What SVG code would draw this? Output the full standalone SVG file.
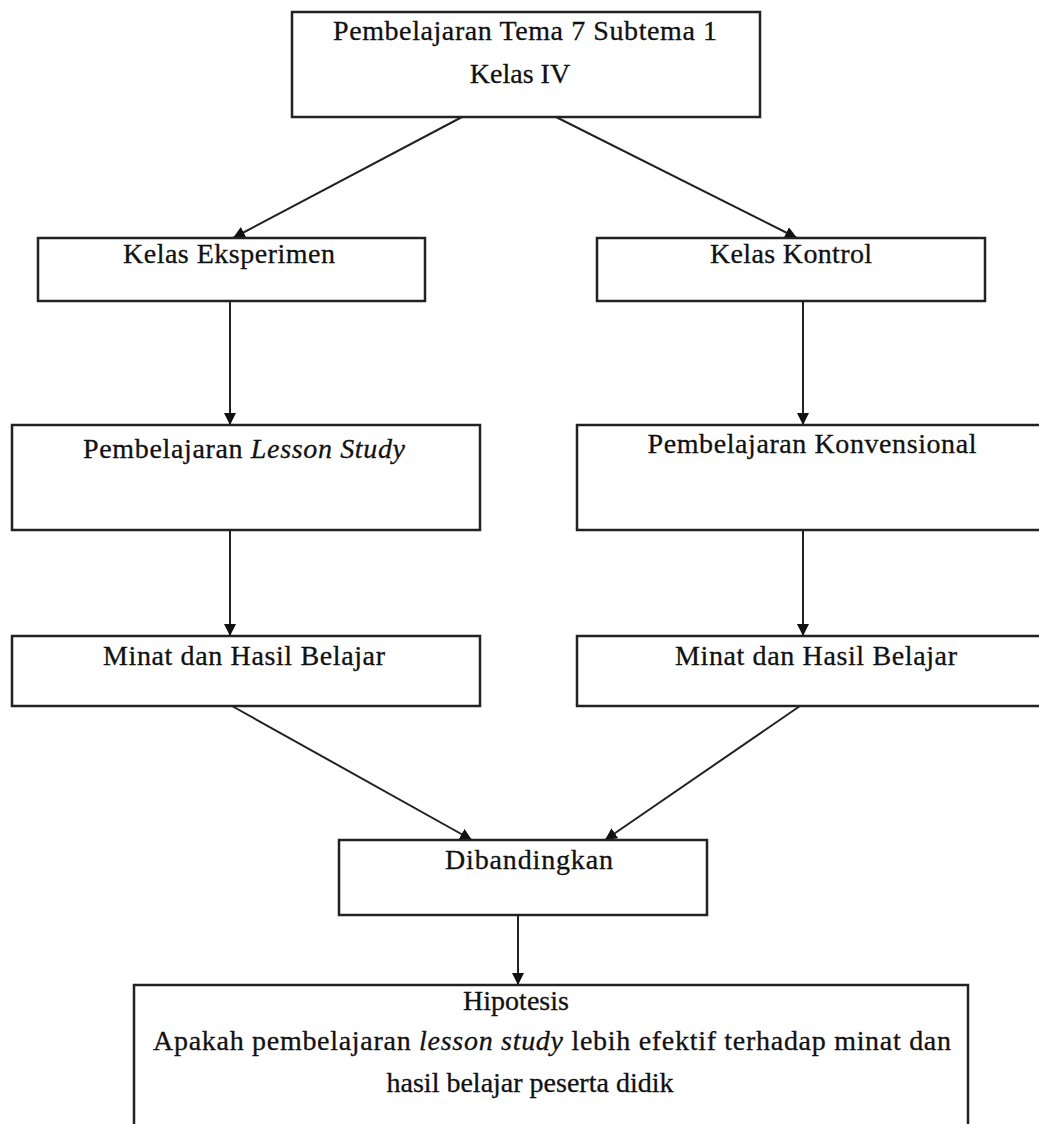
<svg xmlns="http://www.w3.org/2000/svg" width="1039" height="1124" viewBox="0 0 1039 1124">
<style>
.box{fill:#fff;stroke:#222;stroke-width:2.5}
.t{font-family:"Liberation Serif","Times New Roman",serif;font-size:28px;fill:#111;stroke:#111;stroke-width:0.3;text-anchor:middle}
.c{fill:none;stroke:#222;stroke-width:2}
</style>
<defs>
<marker id="ah" markerUnits="userSpaceOnUse" markerWidth="12" markerHeight="12" viewBox="0 0 12 12" refX="12" refY="6" orient="auto">
<path d="M0,0 L12,6 L0,12 z" fill="#111"/>
</marker>
</defs>
<rect width="1039" height="1124" fill="#fff"/>
<g id="connectors">
<line class="c" x1="462" y1="117" x2="233" y2="238" marker-end="url(#ah)"/>
<line class="c" x1="556" y1="117" x2="797" y2="238" marker-end="url(#ah)"/>
<line class="c" x1="230" y1="301" x2="230" y2="425" marker-end="url(#ah)"/>
<line class="c" x1="803" y1="301" x2="803" y2="425" marker-end="url(#ah)"/>
<line class="c" x1="230" y1="530" x2="230" y2="636" marker-end="url(#ah)"/>
<line class="c" x1="803" y1="530" x2="803" y2="636" marker-end="url(#ah)"/>
<line class="c" x1="232" y1="706" x2="472" y2="840" marker-end="url(#ah)"/>
<line class="c" x1="800" y1="706" x2="605" y2="840" marker-end="url(#ah)"/>
<line class="c" x1="518" y1="915" x2="518" y2="985" marker-end="url(#ah)"/>
</g>
<g id="n-top">
<rect class="box" x="292" y="12" width="468" height="105"/>
<text class="t" x="525" y="40" textLength="384" lengthAdjust="spacing">Pembelajaran Tema 7 Subtema 1</text>
<text class="t" x="520" y="83">Kelas IV</text>
</g>
<g id="n-eksperimen">
<rect class="box" x="38" y="238" width="387" height="63"/>
<text class="t" x="229" y="263" textLength="212" lengthAdjust="spacing">Kelas Eksperimen</text>
</g>
<g id="n-kontrol">
<rect class="box" x="597" y="238" width="388" height="63"/>
<text class="t" x="791" y="263" textLength="162" lengthAdjust="spacing">Kelas Kontrol</text>
</g>
<g id="n-lesson">
<rect class="box" x="12" y="425" width="468" height="105"/>
<text class="t" x="244" y="458" textLength="322" lengthAdjust="spacing">Pembelajaran <tspan font-style="italic">Lesson Study</tspan></text>
</g>
<g id="n-konvensional">
<rect class="box" x="577" y="425" width="470" height="105"/>
<text class="t" x="812" y="453" textLength="329" lengthAdjust="spacing">Pembelajaran Konvensional</text>
</g>
<g id="n-minat-left">
<rect class="box" x="12" y="636" width="468" height="70"/>
<text class="t" x="244" y="665" textLength="282" lengthAdjust="spacing">Minat dan Hasil Belajar</text>
</g>
<g id="n-minat-right">
<rect class="box" x="577" y="636" width="470" height="70"/>
<text class="t" x="816" y="665" textLength="282" lengthAdjust="spacing">Minat dan Hasil Belajar</text>
</g>
<g id="n-dibandingkan">
<rect class="box" x="339" y="840" width="368" height="75"/>
<text class="t" x="529" y="869" textLength="168" lengthAdjust="spacing">Dibandingkan</text>
</g>
<g id="n-hipotesis">
<rect class="box" x="134" y="985" width="834" height="150"/>
<text class="t" x="516" y="1010">Hipotesis</text>
<text class="t" x="552" y="1050" textLength="798" lengthAdjust="spacing">Apakah pembelajaran <tspan font-style="italic">lesson study</tspan> lebih efektif terhadap minat dan</text>
<text class="t" x="530" y="1092">hasil belajar peserta didik</text>
</g>
</svg>
